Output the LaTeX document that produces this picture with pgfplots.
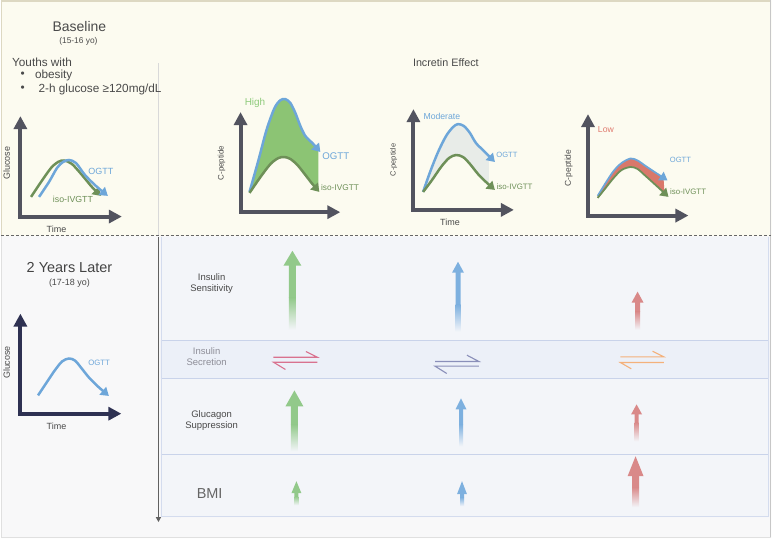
\documentclass[border=0pt]{standalone}
\usepackage{pgfplots}
\pgfplotsset{compat=1.18}
\usepgfplotslibrary{fillbetween}
\usetikzlibrary{arrows.meta}
\usepackage{fontspec}
\setmainfont{Liberation Sans}
\definecolor{cream}{HTML}{FCFBF0}
\definecolor{lowbg}{HTML}{F8F8F9}
\definecolor{bandbg}{HTML}{F3F5F9}
\definecolor{bandln}{HTML}{C9D3EA}
\definecolor{bandfill}{HTML}{ECF0F8}
\definecolor{axgray}{HTML}{52535F}
\definecolor{axnavy}{HTML}{2E3152}
\definecolor{cblue}{HTML}{6DA6D9}
\definecolor{cgreen}{HTML}{6E9058}
\definecolor{hfill}{HTML}{8CC474}
\definecolor{hightxt}{HTML}{8FCB7C}
\definecolor{modfill}{HTML}{E8ECE8}
\definecolor{lowfill}{HTML}{D9786B}
\definecolor{lowtxt}{HTML}{E07B6F}
\definecolor{agreen}{HTML}{92C98A}
\definecolor{ablue}{HTML}{7DB0DF}
\definecolor{ared}{HTML}{D98989}
\definecolor{hpink}{HTML}{D9728F}
\definecolor{hpurple}{HTML}{8A8FB9}
\definecolor{horange}{HTML}{F4B17B}
\definecolor{txt}{HTML}{4A4A4A}
\definecolor{txtl}{HTML}{8E8E98}
\definecolor{tan}{HTML}{DDD8C2}
\newcommand\UpHead[6]{\addplot[draw=none, fill=#1] coordinates {(#2,#6) (#4,#5) (#3,#6) (#2,#6)};}
\newcommand\UpShaft[6]{\addplot[draw=none, fill=#1] coordinates {(#2,#4) (#3,#4) (#3,#5) (#2,#5) (#2,#4)};
 \addplot[draw=none, top color=#1, bottom color=bandbg] coordinates {(#2,#5) (#3,#5) (#3,#6) (#2,#6) (#2,#5)};}
\newcommand\fs[1]{\fontsize{#1}{#1}\selectfont}
\tikzset{
 axarr/.style={line width=4pt, #1, {Triangle[length=13pt,width=13pt]}-{Triangle[length=13pt,width=13pt]}},
 curv/.style={line width=2.5pt, #1, smooth, -{Triangle[length=8pt,width=10pt]}},
}
\begin{document}
\begin{tikzpicture}
\begin{axis}[scale only axis, width=772pt, height=539pt, xmin=0, xmax=772, ymin=0, ymax=539,
 y dir=reverse, axis lines=none, clip=false, set layers]
% backgrounds
\addplot[draw=none, fill=lowbg, on layer=axis background] coordinates {(0,0) (772,0) (772,539) (0,539) (0,0)};
\addplot[draw=none, fill=cream, on layer=axis background] coordinates {(0,0) (772,0) (772,236) (0,236) (0,0)};
\addplot[draw=none, fill=bandbg, on layer=axis background] coordinates {(160,237) (770,237) (770,518) (160,518) (160,237)};
\addplot[draw=none, fill=bandfill, on layer=axis background] coordinates {(160,341) (770,341) (770,379) (160,379) (160,341)};
\addplot[color=tan, line width=1.5pt] coordinates {(0,0.75) (772,0.75)};
\addplot[color=tan, line width=0.8pt] coordinates {(0.5,0) (0.5,236)};
\addplot[color=black!22, line width=0.8pt] coordinates {(771.5,0) (771.5,539)};
\addplot[color=black!12, line width=0.8pt] coordinates {(0.5,236) (0.5,538.5) (771.5,538.5)};
\addplot[color=black!15, line width=0.8pt] coordinates {(157.7,63) (157.7,236)};
% bands
\addplot[color=bandln, line width=1.3pt] coordinates {(160,341) (770,341)};
\addplot[color=bandln, line width=1.3pt] coordinates {(160,379) (770,379)};
\addplot[color=bandln, line width=1.3pt] coordinates {(160,455) (770,455)};
\addplot[color=bandln!80, line width=1pt] coordinates {(160.5,237) (160.5,517.5) (769.5,517.5) (769.5,237)};
% dashed separator
\addplot[color=black!60, line width=1.3pt, dash pattern=on 3pt off 2pt] coordinates {(0,236) (772,236)};
% left vertical arrow
\addplot[color=black!62, line width=1.6pt, -{Triangle[length=5pt,width=5pt]}] coordinates {(157.7,237) (157.7,523)};

% ===== top-left glucose plot
\addplot[axarr=axgray] coordinates {(19.3,116) (19.3,216.7) (121,216.7)};
\addplot[curv=cgreen] coordinates {(30,197) (40,182) (50,168) (57,162) (63,160.5) (71,164) (81,175) (91,187) (100,196)};
\addplot[curv=cblue] coordinates {(38,197) (48,182) (56,168) (62,162) (68,160) (75,163) (84,175) (95,186) (107,196)};
\node[text=cblue, font=\fs{9}] at (100,171.5) {OGTT};
\node[text=cgreen, font=\fs{8.8}] at (72,199) {iso-IVGTT};
\node[text=txt, font=\fs{9}, rotate=90] at (5.5,163) {Glucose};
\node[text=txt, font=\fs{9}] at (55.5,229) {Time};

% ===== High plot
\addplot[name path=hb, draw=none, smooth] coordinates {(249,192) (258,160) (266,130) (274,108) (280,100) (285,99) (290,103) (295,113) (300,126) (305,136) (312,143) (318,150)};
\addplot[name path=hg, draw=none, smooth] coordinates {(249,193) (260,177) (270,164) (278,158) (284,157) (290,159) (297,165) (305,175) (312,184) (318,190)};
\addplot[fill=hfill, draw=none] fill between[of=hb and hg];
\addplot[axarr=axgray] coordinates {(240,112) (240,212.3) (340,212.3)};
\addplot[curv=cblue] coordinates {(249,192) (258,160) (266,130) (274,108) (280,100) (285,99) (290,103) (295,113) (300,126) (305,136) (312,143) (320,152)};
\addplot[curv=cgreen] coordinates {(249,193) (260,177) (270,164) (278,158) (284,157) (290,159) (297,165) (305,175) (312,184) (319,192)};
\node[text=hightxt, font=\fs{10}] at (254.5,103) {High};
\node[text=cblue, font=\fs{9.7}] at (335.5,156) {OGTT};
\node[text=cgreen, font=\fs{8.3}] at (339.7,187.5) {iso-IVGTT};
\node[text=txt, font=\fs{8}, rotate=90] at (221,163) {C-peptide};

% ===== Moderate plot
\addplot[name path=mb, draw=none, smooth] coordinates {(423,192) (430,172) (438,152) (446,136) (453,127) (458,124) (464,126) (470,133) (476,143) (484,151) (489,156)};
\addplot[name path=mg, draw=none, smooth] coordinates {(423,192) (432,180) (441,167) (449,158) (456,155) (463,157) (470,164) (478,174) (484,180) (489,184)};
\addplot[fill=modfill, draw=none] fill between[of=mb and mg];
\addplot[axarr=axgray] coordinates {(413.3,109) (413.3,210) (514,210)};
\addplot[curv=cblue] coordinates {(423,192) (430,172) (438,152) (446,136) (453,127) (458,124) (464,126) (470,133) (476,143) (484,151) (495,162)};
\addplot[curv=cgreen] coordinates {(423,192) (432,180) (441,167) (449,158) (456,155) (463,157) (470,164) (478,174) (486,182) (495,190)};
\node[text=cblue, font=\fs{8.7}] at (441.8,116) {Moderate};
\node[text=cblue, font=\fs{7.6}] at (507,154.5) {OGTT};
\node[text=cgreen, font=\fs{7.9}] at (514.7,186.5) {iso-IVGTT};
\node[text=txt, font=\fs{9}] at (450,222.5) {Time};
\node[text=txt, font=\fs{7.5}, rotate=90] at (393.5,160) {C-peptide};
\node[text=txt, font=\fs{10.8}] at (445.8,62) {Incretin Effect};

% ===== Low plot
\addplot[name path=lb, draw=none, smooth] coordinates {(598,196) (606,183) (614,171) (622,163) (631,158.5) (638,160.5) (646,166) (655,172) (664,178)};
\addplot[name path=lg, draw=none, smooth] coordinates {(598,198) (606,188) (614,178) (622,170) (631,167) (638,169) (646,176) (656,185) (665,193)};
\addplot[fill=lowfill, draw=none] fill between[of=lb and lg];
\addplot[axarr=axgray] coordinates {(588.3,114) (588.3,215.7) (689,215.7)};
\addplot[line width=1.8pt, cblue, smooth, -{Triangle[length=8pt,width=10pt]}] coordinates {(598,196) (606,183) (614,171) (622,163) (631,158.5) (638,160.5) (646,166) (655,172) (668,180.5)};
\addplot[line width=1.8pt, cgreen, smooth, -{Triangle[length=8pt,width=10pt]}] coordinates {(598,198) (606,188) (614,178) (622,170) (631,167) (638,169) (646,176) (656,185) (669,197)};
\node[text=lowtxt, font=\fs{8.7}] at (606.3,129) {Low};
\node[text=cblue, font=\fs{7.6}] at (681,159.5) {OGTT};
\node[text=cgreen, font=\fs{7.9}] at (688.7,191.5) {iso-IVGTT};
\node[text=txt, font=\fs{8.5}, rotate=90] at (569,168) {C-peptide};

% ===== titles top-left
\node[text=txt, font=\fs{14}] at (78.5,26.5) {Baseline};
\node[text=txt, font=\fs{8.4}] at (77.5,41) {(15-16 yo)};
\node[text=txt, font=\fs{11.8}, anchor=west] at (7.5,62) {Youths with};
\node[text=txt, font=\fs{11.8}] at (21.5,75) {\textbullet};
\node[text=txt, font=\fs{11.8}, anchor=west] at (30.5,75.5) {obesity};
\node[text=txt, font=\fs{11.8}] at (21.5,89) {\textbullet};
\node[text=txt, font=\fs{11.8}, anchor=west] at (34,89.5) {2-h glucose ≥120mg/dL};

% ===== lower-left
\node[text=txt!90!black, font=\fs{14.5}] at (68.5,267.5) {2 Years Later};
\node[text=txt, font=\fs{9}] at (68.5,283) {(17-18 yo)};
\addplot[axarr=axnavy] coordinates {(19.3,314) (19.3,414.3) (120.5,414.3)};
\addplot[curv=cblue] coordinates {(37,396) (45,384) (53,372) (61,362) (68,359) (74,361) (80,368) (88,378) (97,387) (108,396.5)};
\node[text=cblue, font=\fs{7.8}] at (98.2,363.5) {OGTT};
\node[text=txt, font=\fs{9}, rotate=90] at (5.5,363) {Glucose};
\node[text=txt, font=\fs{9}] at (55.5,427) {Time};

% ===== row labels
\node[text=txt, font=\fs{9.5}, align=center] at (211,284) {Insulin\\[1pt]Sensitivity};
\node[text=txtl, font=\fs{9.5}, align=center] at (206,357) {Insulin\\[1pt]Secretion};
\node[text=txt, font=\fs{9.5}, align=center] at (211,421) {Glucagon\\[1pt]Suppression};
\node[text=txt!85, font=\fs{14.5}] at (209,494.5) {BMI};

% ===== up arrows
\UpShaft{agreen}{288.5}{295.5}{265}{298}{330}
\UpHead{agreen}{283}{301}{292}{251}{266}
\UpShaft{ablue}{455.5}{460.5}{272}{305}{332}
\UpHead{ablue}{452}{464}{458}{262}{273}
\UpShaft{ared}{635.5}{640.5}{302}{312}{330}
\UpHead{ared}{632}{644}{638}{292}{303}
\UpShaft{agreen}{290.5}{297.5}{406}{425}{452}
\UpHead{agreen}{285}{303}{294}{391}{407}
\UpShaft{ablue}{459}{463}{409}{425}{447}
\UpHead{ablue}{455.5}{466.5}{461}{399}{410}
\UpShaft{ared}{635}{639}{414}{423}{442}
\UpHead{ared}{631.5}{642.5}{637}{405}{415}
\UpShaft{agreen}{294}{298}{493}{497}{506}
\UpHead{agreen}{291}{301}{296}{482}{494}
\UpShaft{ablue}{460}{464}{494}{498}{507}
\UpHead{ablue}{457}{467}{462}{482}{495}
\UpShaft{ared}{632.5}{639.5}{476}{488}{508}
\UpHead{ared}{628}{644}{636}{457}{477}

% ===== harpoons
\addplot[hpink, line width=1.1pt] coordinates {(273,357.7) (317,357.7) (305.5,352)};
\addplot[hpink, line width=1.1pt] coordinates {(317,362.7) (273,362.7) (285,370)};
\addplot[hpurple, line width=1.1pt] coordinates {(435,362) (479,362) (467,355.7)};
\addplot[hpurple, line width=1.1pt] coordinates {(479,366.7) (435,366.7) (446.7,374)};
\addplot[horange, line width=1.1pt] coordinates {(620.7,357.3) (664.3,357.3) (653,351.7)};
\addplot[horange, line width=1.1pt] coordinates {(664.3,363) (620.7,363) (631.7,369.3)};
\end{axis}
\end{tikzpicture}
\end{document}
